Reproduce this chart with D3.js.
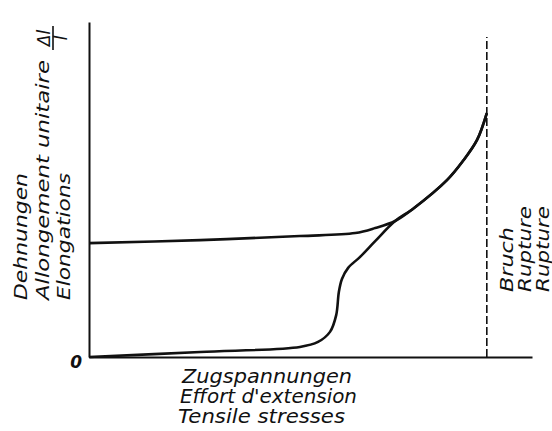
<!DOCTYPE html>
<html>
<head>
<meta charset="utf-8">
<script src="https://cdn.jsdelivr.net/npm/d3@7"></script>
<style>
  body { margin: 0; background: #fff; }
  text { font-family: "DejaVu Sans", sans-serif; font-style: italic; fill: #111; }
</style>
</head>
<body>
<div id="chart"></div>
<script>
// stress (x) and strain (y) in arbitrary units
const upperStress = [0, 25.1, 47.6, 60.1, 64.6, 69.1, 73.1, 80.8, 84.4, 87.6, 89.8];
const upperStrain = [34.0, 34.9, 36.1, 37.0, 38.5, 40.6, 44.2, 52.8, 58.5, 64.8, 72.8];
const lowerStress = [0, 25.1, 47.6, 51.7, 54.4, 55.8, 56.4, 57.1, 58.5, 61.2, 64.6, 69.1, 73.1, 80.8, 84.4, 87.6, 89.8];
const lowerStrain = [0, 1.5, 3.0, 4.5, 7.5, 12.5, 19.4, 23.3, 26.6, 29.9, 34.6, 40.6, 44.2, 52.8, 58.5, 64.8, 72.8];
const ruptureStress = 89.8;
const yLabels = ["Dehnungen", "Allongement unitaire", "Elongations"];
const xLabels = ["Zugspannungen", "Effort d'extension", "Tensile stresses"];
const ruptureLabels = ["Bruch", "Rupture", "Rupture"];

const W = 552, H = 431;
const svg = d3.select("#chart").append("svg")
    .attr("width", W)
    .attr("height", H);

const x = d3.scaleLinear().domain([0, 100]).range([89, 532]);
const y = d3.scaleLinear().domain([0, 100]).range([357, 22]);

// axes
svg.append("g")
    .attr("transform", `translate(0,${y(0)})`)
    .call(d3.axisBottom(x).tickValues([]).tickSizeOuter(0))
    .call(g => g.select(".domain").attr("stroke", "#111").attr("stroke-width", 2));

const yAxis = svg.append("g")
    .attr("transform", `translate(${x(0)},0)`)
    .attr("font-size", 17)
    .call(d3.axisLeft(y).tickValues([0]).tickSize(0).tickSizeOuter(0).tickPadding(7));
yAxis.attr("font-size", 17).attr("font-family", "DejaVu Sans");
yAxis.select(".domain").attr("stroke", "#111").attr("stroke-width", 2);
yAxis.selectAll(".tick text")
    .style("font-size", "17px")
    .style("font-weight", "bold")
    .attr("dy", "0.6em")
    .attr("fill", "#111");

// rupture line
svg.append("line")
    .attr("x1", x(ruptureStress)).attr("x2", x(ruptureStress))
    .attr("y1", y(0)).attr("y2", y(95.5))
    .attr("stroke", "#111")
    .attr("stroke-width", 1.6)
    .attr("stroke-dasharray", "8,3");

const line = d3.line()
    .x(d => x(d[0]))
    .y(d => y(d[1]))
    .curve(d3.curveCatmullRom.alpha(0.5));

const upper = upperStress.map((s, i) => [s, upperStrain[i]]);
const lower = lowerStress.map((s, i) => [s, lowerStrain[i]]);

[upper, lower].forEach(pts => {
    svg.append("path")
        .datum(pts)
        .attr("d", line)
        .attr("fill", "none")
        .attr("stroke", "#111")
        .attr("stroke-width", 2.6)
        .attr("stroke-linejoin", "round");
});

// vertical labels on the left
const yLabelX = [27, 49, 70];
const yLabelLen = [127, 240, 127];
yLabels.forEach((t, i) => {
    svg.append("text")
        .attr("transform", `translate(${yLabelX[i]},300) rotate(-90)`)
        .attr("font-size", 18)
        .attr("textLength", yLabelLen[i])
        .attr("lengthAdjust", "spacingAndGlyphs")
        .text(t);
});

// Δl / l
const frac = svg.append("g").attr("transform", "translate(53,38) rotate(-90)");
frac.append("text")
    .attr("text-anchor", "middle")
    .attr("y", -3)
    .attr("font-size", 17)
    .text("Δl");
frac.append("line")
    .attr("x1", -12).attr("x2", 12)
    .attr("stroke", "#111")
    .attr("stroke-width", 1.6);
frac.append("text")
    .attr("text-anchor", "middle")
    .attr("y", 14)
    .attr("font-size", 17)
    .text("l");

// rupture labels
const rLabelX = [513, 531, 549];
const rLabelLen = [65, 86, 86];
ruptureLabels.forEach((t, i) => {
    svg.append("text")
        .attr("transform", `translate(${rLabelX[i]},292) rotate(-90)`)
        .attr("font-size", 18)
        .attr("textLength", rLabelLen[i])
        .attr("lengthAdjust", "spacingAndGlyphs")
        .text(t);
});

// x labels
const xLabelX = [182, 180, 178];
const xLabelY = [383, 403, 423];
const xLabelLen = [170, 177, 167];
xLabels.forEach((t, i) => {
    svg.append("text")
        .attr("x", xLabelX[i])
        .attr("y", xLabelY[i])
        .attr("font-size", 19)
        .attr("textLength", xLabelLen[i])
        .attr("lengthAdjust", "spacingAndGlyphs")
        .text(t);
});
</script>
</body>
</html>
